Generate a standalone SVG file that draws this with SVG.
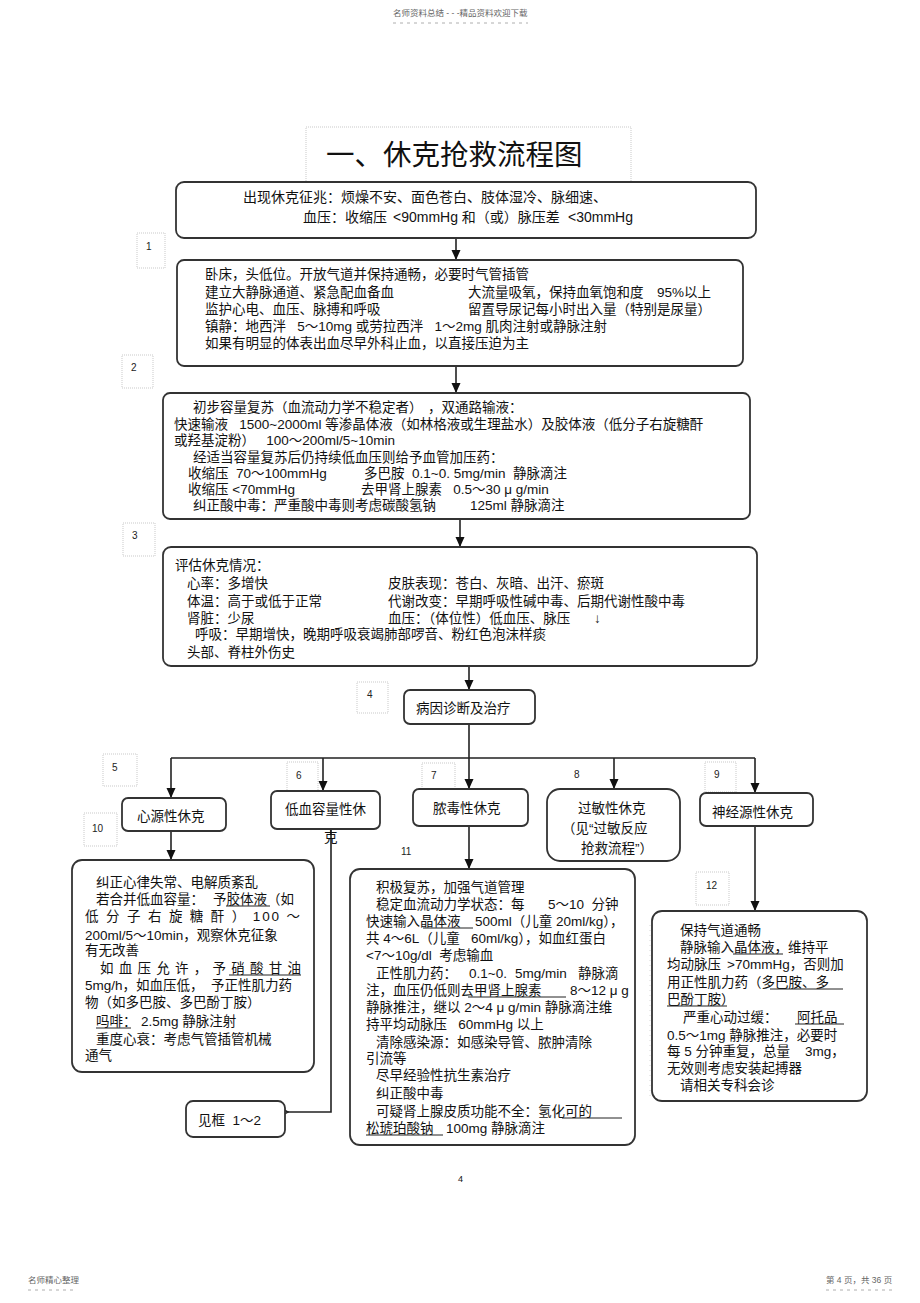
<svg xmlns="http://www.w3.org/2000/svg" width="920" height="1303" viewBox="0 0 920 1303" xml:space="preserve">
<style>
text{font-family:"Liberation Sans","Noto Sans CJK SC",sans-serif;fill:#111;white-space:pre;}
.t{font-size:13.5px;}
.t0{font-size:14px;}
.box{fill:#fff;stroke:#333;stroke-width:1.8;}
.lbl{fill:none;stroke:#bbb;stroke-width:0.8;stroke-dasharray:1 1;}
.ln{font-size:10px;fill:#222;}
.con{fill:none;stroke:#222;stroke-width:1.6;}
.ul{stroke:#222;stroke-width:1;}
.hd{font-size:8.5px;fill:#666;}
.dash{stroke:#999;stroke-width:0.8;stroke-dasharray:3 4;}
</style>
<defs>
<marker id="ah" markerUnits="userSpaceOnUse" markerWidth="10" markerHeight="11" refX="9" refY="5" orient="auto">
<path d="M0,0.5 L10,5 L0,9.5 Z" fill="#111"/>
</marker>
<marker id="oh" markerUnits="userSpaceOnUse" markerWidth="12" markerHeight="12" refX="1" refY="6" orient="auto">
<path d="M10,1 L1,6 L10,11" fill="none" stroke="#222" stroke-width="1.6"/>
</marker>
</defs>
<rect width="920" height="1303" fill="#fff"/>

<g id="header">
<text class="hd" x="393" y="16">名师资料总结 - - -精品资料欢迎下载</text>
<line class="dash" x1="393" y1="23" x2="528" y2="23"/>
<text class="hd" x="28" y="1283">名师精心整理</text>
<line class="dash" x1="28" y1="1290" x2="76" y2="1290"/>
<text class="hd" x="826" y="1283">第 4 页，共 36 页</text>
<line class="dash" x1="826" y1="1290" x2="893" y2="1290"/>
<text x="458" y="1182" style="font-size:9px">4</text>
<line x1="650" y1="925" x2="650" y2="1100" stroke="#ccc" stroke-width="0.8" stroke-dasharray="1 4"/>
</g>

<g id="title">
<rect x="306" y="127" width="325" height="60" class="lbl"/>
<text x="326" y="165" style="font-size:28.5px">一、休克抢救流程图</text>
</g>

<g id="connectors">
<path class="con" d="M456,238 V259" marker-end="url(#ah)"/>
<path class="con" d="M456,366 V392" marker-end="url(#ah)"/>
<path class="con" d="M460,519 V546" marker-end="url(#ah)"/>
<path class="con" d="M469,666 V689" marker-end="url(#ah)"/>
<path class="con" d="M469,724 V758 M171,758 H755"/>
<path class="con" d="M171,758 V797" marker-end="url(#ah)"/>
<path class="con" d="M323,758 V790" marker-end="url(#ah)"/>
<path class="con" d="M469,758 V788" marker-end="url(#ah)"/>
<path class="con" d="M614,758 V788" marker-end="url(#ah)"/>
<path class="con" d="M755,758 V792" marker-end="url(#ah)"/>
<path class="con" d="M171,831 V859" marker-end="url(#ah)"/>
<path class="con" d="M469,826 V868" marker-end="url(#ah)"/>
<path class="con" d="M755,826 V910" marker-end="url(#ah)"/>
<path class="con" d="M331,829 V1112 H288" marker-end="url(#oh)"/>
</g>

<g id="labels">
<rect class="lbl" x="137" y="233" width="28" height="35"/><text class="ln" x="146" y="250">1</text>
<rect class="lbl" x="122" y="355" width="31" height="33"/><text class="ln" x="131" y="371">2</text>
<rect class="lbl" x="123" y="523" width="32" height="33"/><text class="ln" x="132" y="539">3</text>
<rect class="lbl" x="357" y="682" width="31" height="31"/><text class="ln" x="367" y="698">4</text>
<rect class="lbl" x="103" y="754" width="34" height="32"/><text class="ln" x="112" y="771">5</text>
<rect class="lbl" x="287" y="762" width="31" height="30"/><text class="ln" x="296" y="779">6</text>
<rect class="lbl" x="422" y="763" width="33" height="30"/><text class="ln" x="431" y="779">7</text>
<text class="ln" x="574" y="778">8</text>
<rect class="lbl" x="705" y="762" width="31" height="30"/><text class="ln" x="714" y="778">9</text>
<rect class="lbl" x="84" y="813" width="33" height="33"/><text class="ln" x="92" y="832">10</text>
<text class="ln" x="401" y="855">11</text>
<rect class="lbl" x="696" y="872" width="33" height="33"/><text class="ln" x="706" y="889">12</text>
</g>

<g id="n0">
<rect class="box" x="176" y="182" width="580" height="56" rx="8"/>
<text class="t0" x="243" y="202">出现休克征兆：烦燥不安、面色苍白、肢体湿冷、脉细速、</text>
<text class="t0" x="303" y="222">血压：收缩压 <tspan x="393">&lt;90mmHg 和（或）脉压差</tspan><tspan x="568">&lt;30mmHg</tspan></text>
</g>

<g id="n1">
<rect class="box" x="177" y="260" width="566" height="106" rx="7"/>
<text class="t" x="205" y="279">卧床，头低位。开放气道并保持通畅，必要时气管插管</text>
<text class="t" x="205" y="297">建立大静脉通道、紧急配血备血</text>
<text class="t" x="468" y="297">大流量吸氧，保持血氧饱和度</text>
<text class="t" x="657" y="297">95%以上</text>
<text class="t" x="205" y="314">监护心电、血压、脉搏和呼吸</text>
<text class="t" x="468" y="314">留置导尿记每小时出入量（特别是尿量）</text>
<text class="t" x="205" y="331">镇静：地西泮   5～10mg 或劳拉西泮   1～2mg 肌肉注射或静脉注射</text>
<text class="t" x="205" y="348">如果有明显的体表出血尽早外科止血，以直接压迫为主</text>
</g>

<g id="n2">
<rect class="box" x="163" y="393" width="587" height="126" rx="7"/>
<text class="t" x="193" y="412">初步容量复苏（血流动力学不稳定者）</text>
<text class="t" x="428" y="412">，双通路输液：</text>
<text class="t" x="174" y="429">快速输液   1500~2000ml 等渗晶体液（如林格液或生理盐水）及胶体液（低分子右旋糖酐</text>
<text class="t" x="174" y="445">或羟基淀粉）   100～200ml/5~10min</text>
<text class="t" x="193" y="462">经适当容量复苏后仍持续低血压则给予血管加压药：</text>
<text class="t" x="188" y="478">收缩压  70～100mmHg</text>
<text class="t" x="364" y="478">多巴胺  0.1~0. 5mg/min  静脉滴注</text>
<text class="t" x="188" y="494">收缩压 &lt;70mmHg</text>
<text class="t" x="361" y="494">去甲肾上腺素   0.5～30 μ g/min</text>
<text class="t" x="193" y="510">纠正酸中毒：严重酸中毒则考虑碳酸氢钠</text>
<text class="t" x="470" y="510">125ml 静脉滴注</text>
</g>

<g id="n3">
<rect class="box" x="163" y="547" width="594" height="119" rx="8"/>
<text class="t" x="175" y="570">评估休克情况：</text>
<text class="t" x="187" y="588">心率：多增快</text>
<text class="t" x="388" y="588">皮肤表现：苍白、灰暗、出汗、瘀斑</text>
<text class="t" x="187" y="606">体温：高于或低于正常</text>
<text class="t" x="388" y="606">代谢改变：早期呼吸性碱中毒、后期代谢性酸中毒</text>
<text class="t" x="187" y="623">肾脏：少尿</text>
<text class="t" x="388" y="623">血压：（体位性）低血压、脉压</text>
<text class="t" x="594" y="623">↓</text>
<text class="t" x="195" y="639">呼吸：早期增快，晚期呼吸衰竭肺部啰音、粉红色泡沫样痰</text>
<text class="t" x="187" y="657">头部、脊柱外伤史</text>
</g>

<g id="n4">
<rect class="box" x="404" y="690" width="131" height="34" rx="6"/>
<text class="t" x="416" y="713">病因诊断及治疗</text>
</g>

<g id="n5">
<rect class="box" x="122" y="798" width="104" height="33" rx="6"/>
<text class="t" x="137" y="821">心源性休克</text>
</g>

<g id="n6">
<rect class="box" x="271" y="791" width="109" height="38" rx="6"/>
<text class="t" x="285" y="814">低血容量性休</text>
<text class="t" x="324" y="842">克</text>
</g>

<g id="n7">
<rect class="box" x="413" y="789" width="115" height="37" rx="6"/>
<text class="t" x="433" y="813">脓毒性休克</text>
</g>

<g id="n8">
<rect class="box" x="547" y="789" width="133" height="72" rx="13"/>
<text class="t" x="578" y="813">过敏性休克</text>
<text class="t" x="562" y="833">（见“过敏反应</text>
<text class="t" x="581" y="853">抢救流程”）</text>
</g>

<g id="n9">
<rect class="box" x="700" y="793" width="113" height="33" rx="6"/>
<text class="t" x="712" y="817">神经源性休克</text>
</g>

<g id="n10">
<rect class="box" x="72" y="860" width="242" height="212" rx="10"/>
<text class="t" x="96" y="887">纠正心律失常、电解质紊乱</text>
<text class="t" x="96" y="904">若合并低血容量：<tspan x="213">予胶体液（如</tspan></text>
<line class="ul" x1="226" y1="906" x2="270" y2="906"/>
<text class="t" x="85" y="921" textLength="215" lengthAdjust="spacing">低 分 子 右 旋 糖 酐 ） 100 ～</text>
<text class="t" x="85" y="940">200ml/5～10min，观察休克征象</text>
<text class="t" x="85" y="955">有无改善</text>
<text class="t" x="100" y="973" textLength="201" lengthAdjust="spacing">如 血 压 允 许 ， 予 硝 酸 甘 油</text>
<line class="ul" x1="229" y1="975" x2="301" y2="975"/>
<text class="t" x="85" y="990">5mg/h，如血压低，  予正性肌力药</text>
<text class="t" x="85" y="1007">物（如多巴胺、多巴酚丁胺）</text>
<text class="t" x="96" y="1026">吗啡：<tspan x="141">2.5mg 静脉注射</tspan></text>
<line class="ul" x1="96" y1="1028" x2="131" y2="1028"/>
<text class="t" x="96" y="1044">重度心衰：考虑气管插管机械</text>
<text class="t" x="85" y="1060">通气</text>
</g>

<g id="n10b">
<rect class="box" x="186" y="1101" width="99" height="36" rx="7"/>
<text class="t" x="198" y="1125">见框  1～2</text>
</g>

<g id="n11">
<rect class="box" x="350" y="869" width="285" height="276" rx="10"/>
<text class="t" x="376" y="892">积极复苏，加强气道管理</text>
<text class="t" x="376" y="909">稳定血流动力学状态：每</text>
<text class="t" x="548" y="909">5～10  分钟</text>
<text class="t" x="366" y="926">快速输入晶体液</text>
<line class="ul" x1="423" y1="928" x2="473" y2="928"/>
<text class="t" x="475" y="926">500ml（儿童 20ml/kg），</text>
<text class="t" x="366" y="943">共 4～6L（儿童   60ml/kg），如血红蛋白</text>
<text class="t" x="366" y="960">&lt;7～10g/dl  考虑输血</text>
<text class="t" x="376" y="978">正性肌力药：<tspan x="469">0.1~0.</tspan><tspan x="515">5mg/min</tspan><tspan x="578">静脉滴</tspan></text>
<text class="t" x="366" y="995">注，血压仍低则去甲肾上腺素</text>
<line class="ul" x1="468" y1="997" x2="566" y2="997"/>
<text class="t" x="570" y="995">8～12 μ g</text>
<text class="t" x="366" y="1012">静脉推注，继以 2～4 μ g/min 静脉滴注维</text>
<text class="t" x="366" y="1029">持平均动脉压   60mmHg 以上</text>
<text class="t" x="376" y="1047">清除感染源：如感染导管、脓肿清除</text>
<text class="t" x="366" y="1063">引流等</text>
<text class="t" x="376" y="1080">尽早经验性抗生素治疗</text>
<text class="t" x="376" y="1098">纠正酸中毒</text>
<text class="t" x="376" y="1116">可疑肾上腺皮质功能不全：氢化可的</text>
<line class="ul" x1="562" y1="1118" x2="622" y2="1118"/>
<text class="t" x="366" y="1133">松琥珀酸钠</text>
<line class="ul" x1="366" y1="1135" x2="443" y2="1135"/>
<text class="t" x="446" y="1133">100mg 静脉滴注</text>
</g>

<g id="n12">
<rect class="box" x="652" y="911" width="215" height="190" rx="10"/>
<text class="t" x="680" y="935">保持气道通畅</text>
<text class="t" x="680" y="952">静脉输入晶体液，维持平</text>
<line class="ul" x1="733" y1="954" x2="783" y2="954"/>
<text class="t" x="667" y="969">均动脉压 <tspan x="727">&gt;70mmHg，否则加</tspan></text>
<text class="t" x="667" y="987">用正性肌力药（多巴胺、多</text>
<line class="ul" x1="770" y1="989" x2="843" y2="989"/>
<text class="t" x="667" y="1004">巴酚丁胺）</text>
<line class="ul" x1="667" y1="1006" x2="727" y2="1006"/>
<text class="t" x="683" y="1022">严重心动过缓：</text>
<text class="t" x="797" y="1022">阿托品</text>
<line class="ul" x1="795" y1="1024" x2="844" y2="1024"/>
<text class="t" x="667" y="1040">0.5～1mg 静脉推注，必要时</text>
<text class="t" x="667" y="1056">每 5 分钟重复，总量<tspan x="805">3mg，</tspan></text>
<text class="t" x="667" y="1073">无效则考虑安装起搏器</text>
<text class="t" x="680" y="1090">请相关专科会诊</text>
</g>
</svg>
